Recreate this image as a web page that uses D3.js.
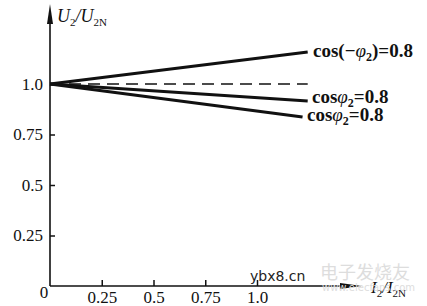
<!DOCTYPE html>
<html>
<head>
<meta charset="utf-8">
<script src="https://cdn.jsdelivr.net/npm/d3@7"></script>
<style>
  body { margin: 0; background: #fff; }
  svg { display: block; }
  .tick text { font-family: "Liberation Serif", "Times New Roman", serif; font-size: 17px; fill: #111; }
  .tick line { stroke: #111; stroke-width: 1.5; }
</style>
</head>
<body>
<div class="graph_container"></div>
<script>
// data
const xTicks = [0.25, 0.5, 0.75, 1.0];
const yTicks = [0.25, 0.5, 0.75, 1.0];
const tickLabels = ["0.25", "0.5", "0.75", "1.0"];

// each characteristic: load points (I2/I2N) and voltage (U2/U2N)
const leadLoad = [0, 1.245];
const leadVolt = [1.0, 1.158];
const resLoad = [0, 1.245];
const resVolt = [1.0, 1.0];
const lagLoad = [0, 1.245];
const lagVolt = [1.0, 0.916];
const lag2Load = [0, 1.22];
const lag2Volt = [1.0, 0.837];

const width = 427;
const height = 306;

const svg = d3.select(".graph_container").append("svg")
    .attr("width", width)
    .attr("height", height);

const x = d3.scaleLinear().domain([0, 1]).range([50, 257]);
const y = d3.scaleLinear().domain([0, 1]).range([286, 84]);

// axes
const xAxis = d3.axisBottom(x).tickValues(xTicks).tickSize(-6).tickPadding(5)
    .tickFormat((d, i) => tickLabels[i]);
const yAxis = d3.axisLeft(y).tickValues(yTicks).tickSize(-5).tickPadding(7)
    .tickFormat((d, i) => tickLabels[i]);

svg.append("g").attr("transform", "translate(0," + y(0) + ")").call(xAxis)
    .call(g => g.select(".domain").remove());
svg.append("g").attr("transform", "translate(" + x(0) + ",0)").call(yAxis)
    .call(g => g.select(".domain").remove());

// axis lines with arrows
svg.append("line").attr("x1", x(0)).attr("y1", y(0)).attr("x2", 352).attr("y2", y(0))
    .attr("stroke", "#111").attr("stroke-width", 1.6);
svg.append("path").attr("d", `M362,${y(0)} L340,${y(0) - 3} L340,${y(0) + 3} Z`).attr("fill", "#111");
svg.append("line").attr("x1", x(0)).attr("y1", y(0)).attr("x2", x(0)).attr("y2", 14)
    .attr("stroke", "#111").attr("stroke-width", 1.6);
svg.append("path").attr("d", `M${x(0)},4 L${x(0) - 3},24 L${x(0) + 3},24 Z`).attr("fill", "#111");

// origin label
svg.append("text").attr("x", 44).attr("y", 298).attr("text-anchor", "middle")
    .attr("font-family", "Liberation Serif, serif").attr("font-size", 17).attr("fill", "#111").text("0");

// lines
const line = d3.line().x(d => x(d[0])).y(d => y(d[1]));
const series = [
    { load: leadLoad, volt: leadVolt, dash: null, w: 3 },
    { load: resLoad, volt: resVolt, dash: "12,7", w: 1.5 },
    { load: lagLoad, volt: lagVolt, dash: null, w: 3 },
    { load: lag2Load, volt: lag2Volt, dash: null, w: 3 }
];
series.forEach(s => {
    svg.append("path")
        .datum(s.load.map((v, i) => [v, s.volt[i]]))
        .attr("d", line)
        .attr("fill", "none")
        .attr("stroke", "#111")
        .attr("stroke-width", s.w)
        .attr("stroke-dasharray", s.dash);
});

// curve labels
const labelFont = "Liberation Serif, Times New Roman, serif";
function cosLabel(px, py, neg) {
    const t = svg.append("text").attr("x", px).attr("y", py)
        .attr("font-family", labelFont).attr("font-size", 19).attr("font-weight", "bold").attr("fill", "#111");
    if (neg) {
        t.append("tspan").text("cos(\u2212");
        t.append("tspan").attr("font-style", "italic").attr("font-weight", "normal").text("\u03c6");
        t.append("tspan").attr("font-size", 12).attr("dy", 4).text("2");
        t.append("tspan").attr("dy", -4).text(")=0.8");
    } else {
        t.append("tspan").text("cos");
        t.append("tspan").attr("font-style", "italic").attr("font-weight", "normal").text("\u03c6");
        t.append("tspan").attr("font-size", 12).attr("dy", 4).text("2");
        t.append("tspan").attr("dy", -4).text("=0.8");
    }
}
cosLabel(313, 57, true);
cosLabel(312, 103, false);
cosLabel(307, 121, false);

// axis titles
const yt = svg.append("text").attr("x", 57).attr("y", 22)
    .attr("font-family", labelFont).attr("font-size", 18).attr("fill", "#111");
yt.append("tspan").attr("font-style", "italic").text("U");
yt.append("tspan").attr("font-size", 11).attr("dy", 4).text("2");
yt.append("tspan").attr("font-style", "italic").attr("dy", -4).text("/U");
yt.append("tspan").attr("font-size", 11).attr("dy", 4).text("2N");

const xt = svg.append("text").attr("x", 371).attr("y", 293)
    .attr("font-family", labelFont).attr("font-size", 17).attr("fill", "#111");
xt.append("tspan").attr("font-style", "italic").text("I");
xt.append("tspan").attr("font-size", 11).attr("dy", 4).text("2");
xt.append("tspan").attr("font-style", "italic").attr("dy", -4).text("/I");
xt.append("tspan").attr("font-size", 11).attr("dy", 4).text("2N");

// watermarks
svg.append("text").attr("x", 250).attr("y", 281)
    .attr("font-family", "DejaVu Sans, sans-serif").attr("font-size", 14).attr("fill", "#222").text("ybx8.cn");
svg.append("text").attr("x", 320).attr("y", 279)
    .attr("font-family", "Noto Sans CJK SC, sans-serif").attr("font-size", 18).attr("fill", "#ddd").text("电子发烧友");
svg.append("text").attr("x", 322).attr("y", 291)
    .attr("font-family", "DejaVu Sans, sans-serif").attr("font-size", 10).attr("fill", "#ddd").text("www.elecfans.com");
</script>
</body>
</html>
